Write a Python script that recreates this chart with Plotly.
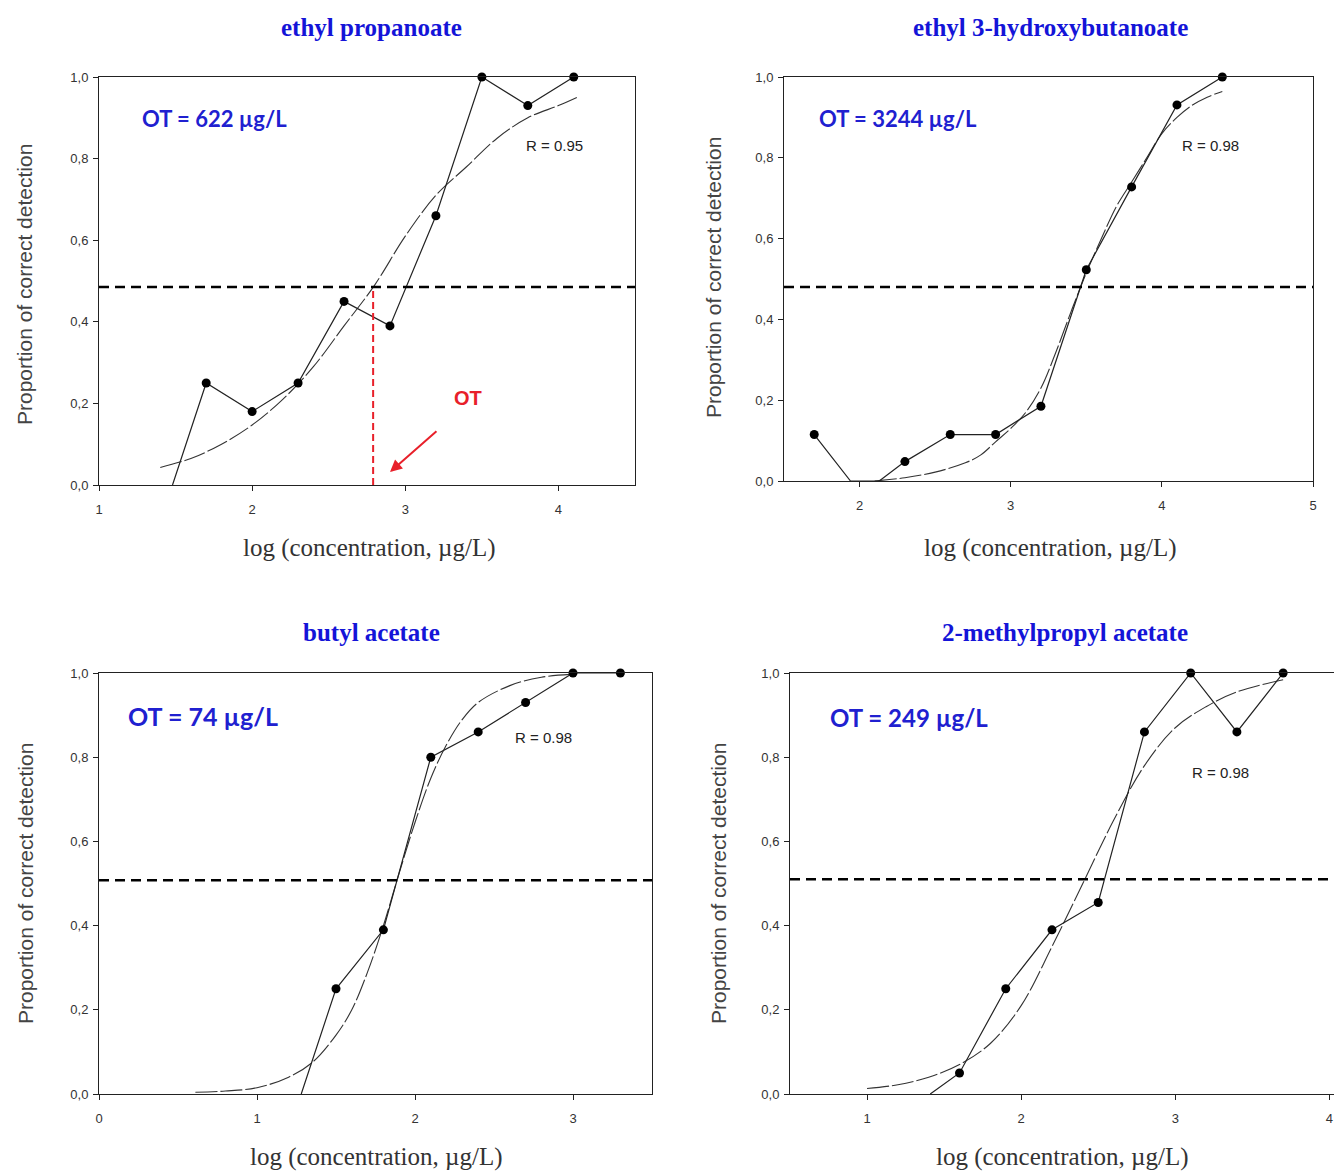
import plotly.graph_objects as go

W, H = 1334, 1171

# ---------------- data ----------------
titles = ["ethyl propanoate", "ethyl 3-hydroxybutanoate", "butyl acetate", "2-methylpropyl acetate"]
ot_labels = ["OT = 622 µg/L", "OT = 3244 µg/L", "OT = 74 µg/L", "OT = 249 µg/L"]
r_labels = ["R = 0.95", "R = 0.98", "R = 0.98", "R = 0.98"]

ep_x = [1.48, 1.7, 2.0, 2.3, 2.6, 2.9, 3.2, 3.5, 3.8, 4.1]
ep_y = [0.0, 0.25, 0.18, 0.25, 0.45, 0.39, 0.66, 1.0, 0.93, 1.0]
ep_mark = [0, 1, 1, 1, 1, 1, 1, 1, 1, 1]

eh_x = [1.7, 1.94, 2.13, 2.3, 2.6, 2.9, 3.2, 3.5, 3.8, 4.1, 4.4]
eh_y = [0.115, 0.0, 0.0, 0.048, 0.115, 0.115, 0.185, 0.523, 0.728, 0.931, 1.0]
eh_mark = [1, 0, 0, 1, 1, 1, 1, 1, 1, 1, 1]

ba_x = [1.28, 1.5, 1.8, 2.1, 2.4, 2.7, 3.0, 3.3]
ba_y = [0.0, 0.25, 0.39, 0.80, 0.86, 0.93, 1.0, 1.0]
ba_mark = [0, 1, 1, 1, 1, 1, 1, 1]

mp_x = [1.41, 1.6, 1.9, 2.2, 2.5, 2.8, 3.1, 3.4, 3.7]
mp_y = [0.0, 0.05, 0.25, 0.39, 0.455, 0.86, 1.0, 0.86, 1.0]
mp_mark = [0, 1, 1, 1, 1, 1, 1, 1, 1]

ep_fit_x = [1.4, 1.6, 1.8, 2.0, 2.2, 2.4, 2.6, 2.8, 3.0, 3.2, 3.4, 3.6, 3.8, 4.0, 4.12]
ep_fit_y = [0.043, 0.065, 0.10, 0.147, 0.21, 0.29, 0.39, 0.49, 0.61, 0.71, 0.78, 0.85, 0.90, 0.93, 0.95]

eh_fit_x = [2.1, 2.3, 2.5, 2.7, 2.8, 2.9, 3.0, 3.1, 3.2, 3.3, 3.4, 3.5, 3.6, 3.7, 3.8, 3.9, 4.0, 4.1, 4.2, 4.3, 4.4]
eh_fit_y = [0.0, 0.008, 0.022, 0.045, 0.064, 0.097, 0.13, 0.17, 0.23, 0.32, 0.42, 0.515, 0.60, 0.68, 0.74, 0.80, 0.86, 0.90, 0.93, 0.95, 0.964]

ba_fit_x = [0.61, 0.8, 1.0, 1.2, 1.35, 1.5, 1.6, 1.7, 1.8, 1.9, 2.0, 2.1, 2.2, 2.3, 2.4, 2.6, 2.8, 3.0]
ba_fit_y = [0.004, 0.007, 0.015, 0.04, 0.075, 0.14, 0.20, 0.29, 0.40, 0.525, 0.645, 0.75, 0.83, 0.89, 0.93, 0.97, 0.99, 0.997]

mp_fit_x = [1.0, 1.2, 1.4, 1.6, 1.8, 2.0, 2.2, 2.4, 2.6, 2.8, 3.0, 3.2, 3.4, 3.7]
mp_fit_y = [0.013, 0.022, 0.04, 0.07, 0.12, 0.21, 0.35, 0.50, 0.65, 0.78, 0.87, 0.92, 0.955, 0.984]

threshold_y = [0.485, 0.48, 0.508, 0.51]
ot_log = 2.79  # log10(622)

x_ranges = [[1, 4.5], [1.5, 5], [0, 3.5], [0.5, 4.03]]
x_ticks = [[1, 2, 3, 4], [2, 3, 4, 5], [0, 1, 2, 3], [1, 2, 3, 4]]
y_ticks = [0, 0.2, 0.4, 0.6, 0.8, 1.0]

boxes = [  # left, right, top, bottom (pixels)
    (99, 635, 77, 485),
    (784, 1313, 77, 481),
    (99, 652, 673, 1094),
    (790, 1334, 673, 1094),
]

def px(x, y):
    return x / W, 1 - y / H

series = [
    (ep_x, ep_y, ep_mark, ep_fit_x, ep_fit_y),
    (eh_x, eh_y, eh_mark, eh_fit_x, eh_fit_y),
    (ba_x, ba_y, ba_mark, ba_fit_x, ba_fit_y),
    (mp_x, mp_y, mp_mark, mp_fit_x, mp_fit_y),
]

fig = go.Figure()
layout = dict(
    width=W, height=H, margin=dict(l=0, r=0, t=0, b=0, pad=0, autoexpand=False),
    paper_bgcolor="white", plot_bgcolor="white",
    showlegend=False, separators=",.",
)
shapes, annotations = [], []
tick_font = dict(family="Liberation Sans, Arial", size=13, color="#333")

for i, (box, (dx, dy, mk, fx, fy)) in enumerate(zip(boxes, series)):
    n = "" if i == 0 else str(i + 1)
    xa, ya = "x" + n, "y" + n
    l, r, t, b = box
    x0, y1 = px(l, t)
    x1, y0 = px(r, b)
    common = dict(showline=True, linecolor="#222", linewidth=1, mirror=True,
                  ticks="outside", ticklen=5, tickcolor="#222", showgrid=False,
                  zeroline=False, tickfont=tick_font, fixedrange=True)
    layout["xaxis" + n] = dict(domain=[x0, x1], range=x_ranges[i], tickvals=x_ticks[i],
                               anchor=ya, ticklabelstandoff=7, **common)
    layout["yaxis" + n] = dict(domain=[y0, y1], range=[0, 1], tickvals=y_ticks,
                               tickformat=".1f", anchor=xa, ticklabelstandoff=2, **common)

    fig.add_trace(go.Scatter(x=fx, y=fy, xaxis=xa, yaxis=ya, mode="lines",
                             line=dict(color="#333", width=1.1, dash="22px,3px", shape="spline"),
                             hoverinfo="skip"))
    fig.add_trace(go.Scatter(x=dx, y=dy, xaxis=xa, yaxis=ya, mode="lines",
                             line=dict(color="#222", width=1.2), hoverinfo="skip"))
    mx = [v for v, m in zip(dx, mk) if m]
    my = [v for v, m in zip(dy, mk) if m]
    fig.add_trace(go.Scatter(x=mx, y=my, xaxis=xa, yaxis=ya, mode="markers",
                             marker=dict(color="black", size=9), cliponaxis=False))

    shapes.append(dict(type="line", xref=xa + " domain", yref=ya, x0=0, x1=1,
                       y0=threshold_y[i], y1=threshold_y[i],
                       line=dict(color="black", width=2.5, dash="10px,6px")))

title_pos = [(371, 27), (1050, 27), (371, 632), (1065, 632)]
xt_pos = [(369, 548), (1050, 548), (376, 1157), (1062, 1157)]
yt_pos = [(25, 285), (713, 278), (25, 884), (718, 884)]
ot_pos = [(214, 118), (898, 118), (203, 716), (909, 717)]
ot_size = [22, 22, 25, 24]
r_pos = [(554, 145), (1210, 145), (543, 737), (1220, 772)]

for i in range(4):
    xp, yp = px(*title_pos[i])
    annotations.append(dict(text="<b>" + titles[i] + "</b>", x=xp, y=yp, xref="paper", yref="paper",
                            showarrow=False, xanchor="center", yanchor="middle",
                            font=dict(family="Liberation Serif", size=25, color="#1414d8")))
    xp, yp = px(*xt_pos[i])
    annotations.append(dict(text="log (concentration, µg/L)", x=xp, y=yp, xref="paper", yref="paper",
                            showarrow=False, xanchor="center", yanchor="middle",
                            font=dict(family="Liberation Serif", size=25, color="#333")))
    xp, yp = px(*yt_pos[i])
    annotations.append(dict(text="Proportion of correct detection", x=xp, y=yp, xref="paper", yref="paper",
                            showarrow=False, xanchor="center", yanchor="middle", textangle=-90,
                            font=dict(family="Liberation Sans, Arial", size=21, color="#444")))
    xp, yp = px(*ot_pos[i])
    annotations.append(dict(text="<b>" + ot_labels[i] + "</b>", x=xp, y=yp, xref="paper", yref="paper",
                            showarrow=False, xanchor="center", yanchor="middle",
                            font=dict(family="Lato, Open Sans", size=ot_size[i], color="#2020d0")))
    xp, yp = px(*r_pos[i])
    annotations.append(dict(text=r_labels[i], x=xp, y=yp, xref="paper", yref="paper",
                            showarrow=False, xanchor="center", yanchor="middle",
                            font=dict(family="Liberation Sans Narrow, Liberation Sans", size=15, color="#222")))

shapes.append(dict(type="line", xref="x", yref="y", x0=ot_log, x1=ot_log, y0=0, y1=threshold_y[0],
                   line=dict(color="#e8202a", width=2, dash="7px,4px")))
annotations.append(dict(text="<b>OT</b>", x=px(468, 398)[0], y=px(468, 398)[1], xref="paper", yref="paper",
                        showarrow=False, font=dict(family="Liberation Sans", size=20, color="#e8202a")))
annotations.append(dict(text="", x=2.9, y=0.032, xref="x", yref="y", showarrow=True,
                        ax=48, ay=-42, arrowhead=2, arrowsize=1.2, arrowwidth=2, arrowcolor="#e8202a"))

layout["shapes"] = shapes
layout["annotations"] = annotations
fig.update_layout(**layout)
fig.write_html("out.html")
